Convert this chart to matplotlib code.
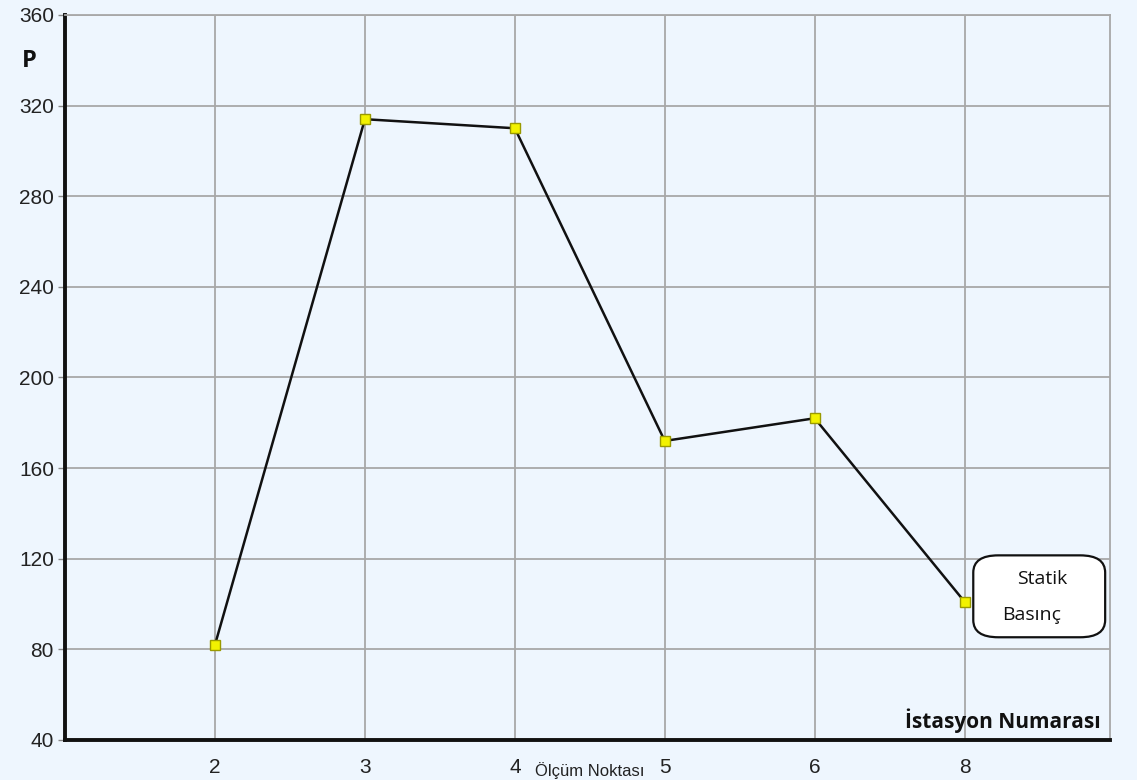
import matplotlib
matplotlib.use("Agg")
import matplotlib.pyplot as plt
from matplotlib.patches import FancyBboxPatch

# station numbers and static pressure readings
stations = ["2", "3", "4", "5", "6", "8"]
pressure = [82, 314, 310, 172, 182, 101]
yticks = [40, 80, 120, 160, 200, 240, 280, 320, 360]

BG = "#eef6fe"
GRID = "#a8a8a8"

fig = plt.figure(figsize=(11.37, 7.80), dpi=100, facecolor=BG)
ax = fig.add_axes([0.0572, 0.0513, 0.9191, 0.9295])
ax.set_facecolor(BG)

xpos = list(range(len(stations)))
ax.plot(xpos, pressure, color="#111111", linewidth=1.8, zorder=3)
ax.plot(xpos, pressure, linestyle="none", marker="s", markersize=7,
        markerfacecolor="#f2f200", markeredgecolor="#9a9a00",
        markeredgewidth=1.0, zorder=4)

ax.set_xlim(-1, 5.97)
ax.set_ylim(40, 360)
ax.set_xticks(xpos)
ax.set_xticklabels(stations)
ax.set_yticks(yticks)

ax.grid(True, color=GRID, linewidth=1.3, zorder=1)
ax.tick_params(axis="x", length=0, pad=13, labelsize=15, labelcolor="#222222")
ax.tick_params(axis="y", length=5, width=1, color="#888888", pad=3,
               labelsize=15, labelcolor="#222222")
for lab in ax.get_xticklabels() + ax.get_yticklabels():
    lab.set_fontfamily("Liberation Sans")

ax.spines["left"].set_color("#111111")
ax.spines["left"].set_linewidth(2.8)
ax.spines["bottom"].set_color("#111111")
ax.spines["bottom"].set_linewidth(2.8)
ax.spines["top"].set_color(GRID)
ax.spines["top"].set_linewidth(1.3)
ax.spines["right"].set_color(GRID)
ax.spines["right"].set_linewidth(1.3)

# axis names written on top of the chart
fig.text(0.019, 0.922, "P", fontsize=17, fontweight="bold",
         family="Open Sans", ha="left", va="center", color="#111111")
fig.text(0.968, 0.076, "İstasyon Numarası", fontsize=15, fontweight="bold",
         family="Open Sans", ha="right", va="center", color="#111111")
# original axis title, squeezed between the tick labels
fig.text(0.519, 0.001, "Ölçüm Noktası", fontsize=12,
         family="Liberation Sans", ha="center", va="bottom", color="#222222")

# callout box next to the last point
box = FancyBboxPatch((0.856, 0.183), 0.116, 0.105,
                     boxstyle="round,pad=0,rounding_size=0.022",
                     transform=fig.transFigure, facecolor="white",
                     edgecolor="#111111", linewidth=1.6, zorder=5)
fig.patches.append(box)
fig.text(0.917, 0.258, "Statik", fontsize=14, family="Open Sans",
         ha="center", va="center", color="#111111", zorder=6)
fig.text(0.907, 0.211, "Basınç", fontsize=14, family="Open Sans",
         ha="center", va="center", color="#111111", zorder=6)

fig.savefig("out.png", dpi=100, facecolor=BG)
